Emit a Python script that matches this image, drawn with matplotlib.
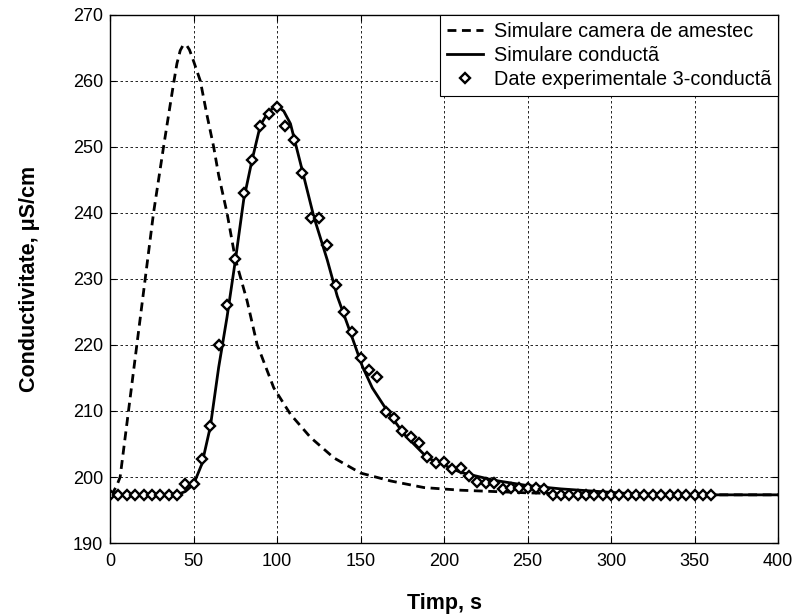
import matplotlib
matplotlib.use("Agg")
import matplotlib.pyplot as plt

plt.rcParams['font.family'] = ['Liberation Sans', 'DejaVu Sans']
plt.rcParams['font.size'] = 13

# simulated curve: mixing chamber (dashed)
t_camera = [0, 2, 4, 6, 11, 16, 21, 26, 29, 32, 35, 38, 40, 42, 43.5, 44.6, 46, 47.5,
            49.4, 54, 58, 62, 65, 70, 75, 82, 88, 98, 108, 120, 134, 150, 168, 188,
            210, 230, 250, 300, 400]
g_camera = [197.3, 197.8, 198.7, 200.0, 210.0, 220.0, 230.0, 240.0, 245.0, 250.0,
            254.8, 259.6, 262.6, 264.6, 265.3, 265.5, 265.3, 264.7, 263.4, 260.0,
            254.8, 250.0, 245.7, 240.0, 233.0, 226.7, 220.1, 213.5, 209.5, 206.0,
            202.9, 200.6, 199.4, 198.4, 198.0, 197.8, 197.6, 197.3, 197.3]

# simulated curve: pipe (solid)
t_conducta = [0, 40, 45, 50, 55, 60, 65, 70, 75, 80, 85, 90, 95, 100, 104, 108,
              114, 122, 130, 136, 144, 151, 157, 166, 176, 190, 210, 230, 250,
              270, 310, 350, 400]
g_conducta = [197.3, 197.3, 197.8, 198.9, 202.0, 207.6, 216.6, 224.2, 232.8, 242.0,
              248.0, 253.3, 255.4, 256.2, 255.4, 253.5, 247.5, 239.4, 232.9, 227.4,
              221.8, 216.8, 213.5, 210.0, 206.5, 202.9, 200.7, 199.5, 198.7, 198.2,
              197.5, 197.3, 197.3]

# experimental data, 3 pipes
t_exp = [0, 5, 10, 15, 20, 25, 30, 35, 40, 45, 50, 55, 60, 65, 70, 75, 80, 85,
         90, 95, 100, 105, 110, 115, 120, 125, 130, 135, 140, 145, 150, 155, 160,
         165, 170, 175, 180, 185, 190, 195, 200, 205, 210, 215, 220, 225, 230,
         235, 240, 245, 250, 255, 260, 265, 270, 275, 280, 285, 290, 295, 300,
         305, 310, 315, 320, 325, 330, 335, 340, 345, 350, 355, 360]
g_exp = [197.3, 197.3, 197.3, 197.3, 197.3, 197.3, 197.3, 197.3, 197.3,
         199.0, 199.0, 202.8, 207.8, 220.0, 226.0, 233.0, 243.0, 248.0, 253.2,
         255.0, 256.0, 253.1, 251.0, 246.1, 239.2, 239.2, 235.2, 229.1, 225.0,
         222.0, 218.0, 216.2, 215.2, 209.9, 209.0, 207.0, 206.1, 205.1, 203.1,
         202.1, 202.2, 201.2, 201.3, 200.2, 199.2, 199.1, 199.1, 198.2, 198.3,
         198.3, 198.3, 198.3, 198.2,
         197.3, 197.3, 197.3, 197.3, 197.3, 197.3, 197.3, 197.3, 197.3, 197.3,
         197.3, 197.3, 197.3, 197.3, 197.3, 197.3, 197.3, 197.3, 197.3, 197.3]

fig = plt.figure(figsize=(7.98, 6.15), dpi=100)
ax = fig.add_axes([0.138, 0.117, 0.837, 0.859])

ax.plot(t_camera, g_camera, color='k', lw=2.0, linestyle=(0, (3.2, 2.0)),
        label='Simulare camera de amestec')
ax.plot(t_conducta, g_conducta, color='k', lw=2.0, label='Simulare conductã')
ax.plot(t_exp, g_exp, linestyle='none', marker='D', ms=5.0, mew=1.7,
        mfc='white', mec='k', label='Date experimentale 3-conductã')

ax.set_xlim(0, 400)
ax.set_ylim(190, 270)
ax.set_xticks(range(0, 401, 50))
ax.set_yticks(range(190, 271, 10))
ax.tick_params(direction='in', length=4, width=0.8, top=True, right=True)
ax.tick_params(axis='x', pad=7)
ax.tick_params(axis='y', pad=5)
for s in ax.spines.values():
    s.set_linewidth(1.0)

ax.grid(True, color='k', lw=0.6, linestyle=(0, (3, 3)))

ax.set_xlabel('Timp, s', fontweight='bold', fontsize=15.5, labelpad=17)
ax.set_ylabel('Conductivitate, μS/cm', fontweight='bold', fontsize=15.5,
              labelpad=24)

leg = ax.legend(loc='upper right', borderaxespad=0, fancybox=False,
                framealpha=1, edgecolor='k', numpoints=1, fontsize=14.3,
                handlelength=1.8, handletextpad=0.55, borderpad=0.35,
                labelspacing=0.26)
leg.get_frame().set_linewidth(0.8)

fig.savefig('out.png', dpi=100)
